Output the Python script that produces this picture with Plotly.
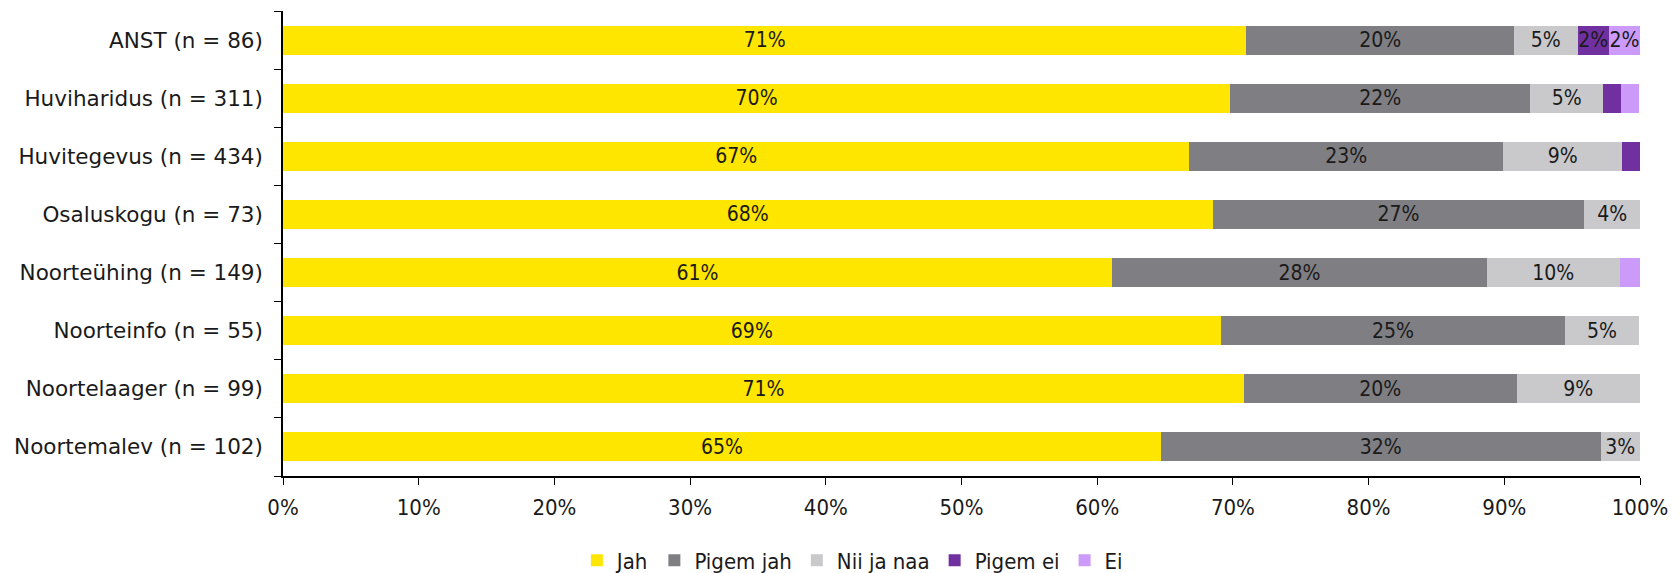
import plotly.graph_objects as go

categories = [
    "ANST (n = 86)",
    "Huviharidus (n = 311)",
    "Huvitegevus (n = 434)",
    "Osaluskogu (n = 73)",
    "Noorteühing (n = 149)",
    "Noorteinfo (n = 55)",
    "Noortelaager (n = 99)",
    "Noortemalev (n = 102)",
]

jah = [71.0, 69.8, 66.8, 68.5, 61.1, 69.1, 70.8, 64.7]
pigem_jah = [19.7, 22.1, 23.1, 27.4, 27.6, 25.4, 20.1, 32.4]
nii_ja_naa = [4.7, 5.4, 8.8, 4.1, 9.8, 5.4, 9.1, 2.9]
pigem_ei = [2.3, 1.3, 1.3, 0.0, 0.0, 0.0, 0.0, 0.0]
ei = [2.3, 1.3, 0.0, 0.0, 1.5, 0.0, 0.0, 0.0]

series = [
    ("Jah", jah, "#FFE600"),
    ("Pigem jah", pigem_jah, "#7F7E82"),
    ("Nii ja naa", nii_ja_naa, "#C9C9CC"),
    ("Pigem ei", pigem_ei, "#7030A0"),
    ("Ei", ei, "#CC9AF9"),
]

FONT = "DejaVu Sans Condensed"

fig = go.Figure()
for name, vals, color in series:
    labels = [f"{round(v)}%" if v >= 2 else "" for v in vals]
    fig.add_trace(
        go.Bar(
            name=name,
            y=categories,
            x=vals,
            orientation="h",
            marker=dict(color=color, line=dict(width=0)),
            text=labels,
            textposition="inside",
            insidetextanchor="middle",
            constraintext="none",
            textfont=dict(color="#1a1a1a", size=21, family=FONT),
        )
    )

# page body has an 8px margin, so the figure is sized/offset for it
fig.update_layout(
    barmode="stack",
    bargap=0.5,
    width=1672,
    height=565,
    margin=dict(l=275, r=40, t=3, b=97),
    plot_bgcolor="white",
    paper_bgcolor="white",
    font=dict(family=FONT, size=22, color="#1a1a1a"),
    legend=dict(
        orientation="h",
        xref="container",
        yref="container",
        x=0.505,
        xanchor="center",
        y=0.022,
        yanchor="middle",
        font=dict(size=22),
        itemwidth=30,
        traceorder="normal",
    ),
)
fig.update_xaxes(
    range=[0, 100],
    dtick=10,
    ticksuffix="%",
    showgrid=False,
    zeroline=False,
    showline=True,
    linecolor="black",
    linewidth=1.5,
    ticks="outside",
    ticklen=7,
    tickcolor="black",
    ticklabelstandoff=4,
)
fig.update_yaxes(
    categoryorder="array",
    categoryarray=categories[::-1],
    showgrid=False,
    showline=True,
    linecolor="black",
    linewidth=1.5,
    ticks="outside",
    tickson="boundaries",
    ticklen=7,
    tickcolor="black",
    ticklabelstandoff=14,
    tickfont=dict(family="DejaVu Sans", size=21.5),
)

fig.write_html("out.html")
